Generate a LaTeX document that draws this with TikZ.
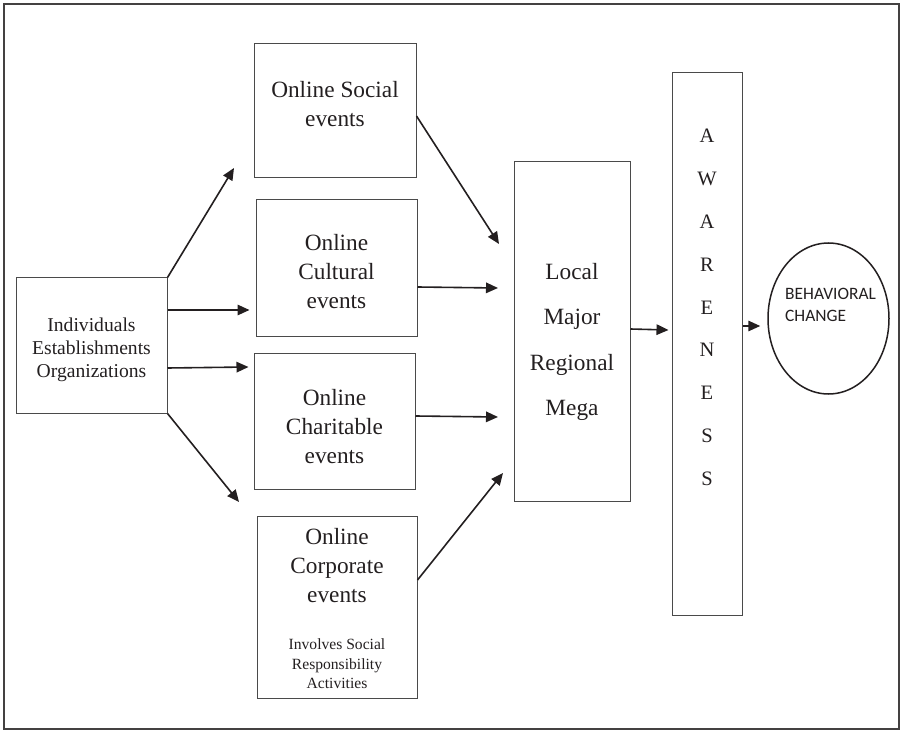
\documentclass[tikz,border=0pt]{standalone}
\usepackage{fontspec}
\setmainfont{Liberation Serif}
\newfontfamily\calfont{Carlito}
\usetikzlibrary{arrows.meta,shapes.geometric}
\definecolor{ink}{HTML}{231F20}
\definecolor{boxline}{HTML}{4A4A4A}
\tikzset{
  boxnode/.style={draw=boxline,line width=1pt,rectangle,inner sep=0pt},
  arr/.style={draw=ink,line width=1.6pt,-{Triangle[length=12pt,width=10.5pt]}},
  bigtxt/.style={text=ink,align=center,inner sep=0pt,font=\fontsize{23.3}{29}\selectfont},
  midtxt/.style={text=ink,align=center,inner sep=0pt,font=\fontsize{19.6}{23}\selectfont},
  smalltxt/.style={text=ink,align=center,inner sep=0pt,font=\fontsize{15.6}{19.5}\selectfont},
}
\begin{document}
\begin{tikzpicture}[x=1pt,y=-1pt]
\useasboundingbox (0,0) rectangle (900,730);
\draw[draw=ink!85,line width=1.3pt] (4,4) rectangle (899,729);

% boxes
\node[boxnode,minimum width=151pt,minimum height=135pt] (lb) at (91.5,345.5) {};
\node[boxnode,minimum width=162pt,minimum height=134pt] (soc) at (335,111) {};
\node[boxnode,minimum width=161pt,minimum height=136pt] (cul) at (336.5,268) {};
\node[boxnode,minimum width=161pt,minimum height=136pt] (cha) at (334.5,421.5) {};
\node[boxnode,minimum width=160pt,minimum height=182pt] (cor) at (337,607) {};
\node[boxnode,minimum width=116pt,minimum height=339pt] (loc) at (572,331.5) {};
\node[boxnode,minimum width=70pt,minimum height=542pt] (aw) at (707,344) {};
\node[draw=ink,line width=1.5pt,ellipse,inner sep=0pt,minimum width=121pt,minimum height=151pt] (bc) at (828.5,318.5) {};

% texts
\node[midtxt] (lbt) at (91.5,350) {Individuals\\Establishments\\Organizations};
\node[bigtxt] (soct) at (335,104.5) {Online Social\\events};
\node[bigtxt] (cult) at (336.5,272) {Online\\Cultural\\events};
\node[bigtxt] (chat) at (334.5,427) {Online\\Charitable\\events};
\node[bigtxt] (cort) at (337,566) {Online\\Corporate\\events};
\node[smalltxt] (cors) at (337,664) {Involves Social\\Responsibility\\Activities};
\node[bigtxt,font=\fontsize{23.3}{45.5}\selectfont] (loct) at (572,342) {Local\\Major\\Regional\\Mega};
\node[bigtxt,font=\fontsize{20.5}{42.8}\selectfont] (awt) at (707,307.5) {A\\W\\A\\R\\E\\N\\E\\S\\S};
\node[text=ink,align=left,inner sep=0pt,anchor=west,font=\calfont\fontsize{17.4}{22}\selectfont] (bct) at (785,304.5) {BEHAVIORAL\\CHANGE};

% arrow tips
\coordinate (e1) at (234,168);
\coordinate (e4) at (239,502);
\coordinate (f1) at (499,244);
\coordinate (f2) at (498,288);
\coordinate (f3) at (498,417);
\coordinate (f4) at (503,473);

% connectors
\draw[arr] (lb.north east) -- (e1);
\draw[arr] ([yshift=35.5pt]lb.east) -- ([yshift=35.5pt,xshift=-6pt]lb.east -| cul.west);
\draw[arr] ([yshift=-22.5pt]lb.east) -- ([yshift=-21.5pt,xshift=-5pt]lb.east -| cha.west);
\draw[arr] (lb.south east) -- (e4);
\draw[arr] ([yshift=-5pt]soc.east) -- (f1);
\draw[arr] ([yshift=-19pt]cul.east) -- (f2);
\draw[arr] ([yshift=5.5pt]cha.east) -- (f3);
\draw[arr] ([yshift=27pt]cor.east) -- (f4);
\draw[arr] ([yshift=2.5pt]loc.east) -- ([yshift=1.5pt,xshift=-3pt]loc.east -| aw.west);
\draw[arr] ([yshift=18pt]aw.east) -- ([xshift=-7pt]bc.west |- 0,326);
\end{tikzpicture}
\end{document}
